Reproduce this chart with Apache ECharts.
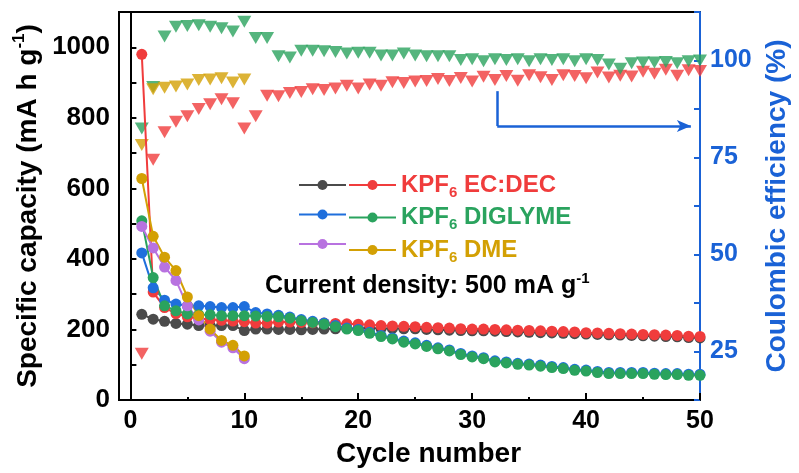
<!DOCTYPE html>
<html>
<head>
<meta charset="utf-8">
<script src="https://cdn.jsdelivr.net/npm/echarts@6/dist/echarts.min.js"></script>
<style>
  html, body { margin: 0; padding: 0; background: #fff; }
  #chart { width: 799px; height: 473px; }
</style>
</head>
<body>
<div id="chart"></div>
<script>
// cycle index
const cycles = [1, 2, 3, 4, 5, 6, 7, 8, 9, 10, 11, 12, 13, 14, 15, 16, 17, 18, 19, 20,
  21, 22, 23, 24, 25, 26, 27, 28, 29, 30, 31, 32, 33, 34, 35, 36, 37, 38, 39, 40,
  41, 42, 43, 44, 45, 46, 47, 48, 49, 50]

// specific capacity (mA h g-1)
const ecdecCharge = [243, 229, 223, 217, 215, 211, 211, 211, 211, 197, 201, 201, 200, 200, 199, 200, 201, 202, 203, 203,
  204, 203, 203, 202, 202, 200, 199, 198, 197, 196, 196, 195, 194, 193, 192, 191, 190, 189, 188, 187,
  186, 185, 184, 183, 182, 181, 180, 179, 177, 176]
const ecdecDischarge = [980, 306, 262, 245, 236, 231, 228, 226, 224, 222, 218, 218, 221, 221, 220, 219, 218, 217, 216, 215,
  213, 211, 210, 209, 208, 206, 205, 204, 202, 201, 201, 200, 199, 198, 197, 196, 195, 194, 193, 191,
  190, 189, 188, 187, 186, 185, 184, 183, 181, 180]
const diglymeCharge = [417, 318, 283, 272, 267, 267, 265, 262, 262, 265, 248, 244, 240, 235, 228, 223, 218, 211, 204, 200,
  192, 183, 176, 167, 162, 155, 148, 142, 132, 125, 120, 111, 108, 104, 102, 99, 95, 92, 87, 85,
  81, 78, 78, 78, 78, 76, 75, 75, 73, 73]
const diglymeDischarge = [508, 347, 267, 253, 244, 242, 242, 239, 239, 239, 238, 237, 236, 232, 225, 220, 215, 208, 201, 197,
  189, 180, 173, 164, 159, 152, 145, 139, 129, 122, 117, 108, 105, 101, 99, 96, 92, 89, 84, 82,
  78, 75, 75, 75, 75, 73, 72, 72, 70, 70]
const dmeCharge = [492, 431, 377, 339, 267, 227, 195, 164, 148, 117]
const dmeDischarge = [628, 464, 405, 367, 292, 239, 201, 169, 155, 125]

// coulombic efficiency (%)
const ecdecCE = [24.4, 74.4, 81.5, 84.2, 85.6, 87.5, 88.7, 90.0, 89.0, 82.5, 85.6, 90.9, 90.8, 91.6, 91.9, 92.6, 92.4, 92.8, 93.5, 92.8,
  93.8, 93.5, 94.4, 94.2, 94.6, 94.7, 95.2, 94.7, 95.5, 94.6, 95.8, 95.0, 96.0, 94.8, 96.2, 95.7, 95.0, 96.2, 96.0, 95.4,
  96.9, 95.6, 96.1, 95.9, 97.1, 96.6, 97.6, 96.1, 97.5, 97.3]
const diglymeCE = [82.5, 93.2, 106.2, 108.7, 108.9, 109.1, 108.7, 108.3, 107.5, 110.0, 105.8, 105.8, 101.1, 100.8, 102.5, 102.5, 102.4, 102.2, 101.8, 102.0,
  102.0, 101.3, 101.3, 101.8, 101.3, 101.1, 101.1, 101.1, 100.1, 100.3, 99.8, 100.3, 100.1, 100.3, 99.8, 100.3, 100.1, 100.3, 99.8, 100.3,
  100.1, 99.0, 97.9, 99.3, 99.5, 99.5, 99.6, 99.3, 99.8, 100.0]
const dmeCE = [78.2, 92.6, 93.0, 93.3, 93.8, 95.0, 95.1, 95.4, 94.3, 95.1]

// arrow pointing to the right axis (cycle, CE)
const arrowX = 32.2, arrowTop = 92.1, arrowBottom = 83.1, arrowEnd = 49.2

const FONT = '"Liberation Sans", Arial, sans-serif'
const BLUE_AXIS = '#1a62d6'
const C = {
  gray: '#4b4b4b', red: '#f03c3c', blue: '#1f6fdc',
  green: '#2aa35e', purple: '#b872e0', gold: '#d3a004'
}

const pts = vals => vals.map((v, i) => [cycles[i], v])

const capSeries = (name, vals, color) => ({
  name,
  type: 'line',
  data: pts(vals),
  symbol: 'circle',
  symbolSize: 11,
  lineStyle: { color, width: 2 },
  itemStyle: { color },
  emphasis: { disabled: true }
})

const ceSeries = (name, vals, color, extra) => Object.assign({
  name,
  type: 'scatter',
  yAxisIndex: 1,
  data: pts(vals),
  symbol: 'triangle',
  symbolRotate: 180,
  symbolSize: [14, 12],
  itemStyle: { color },
  emphasis: { disabled: true }
}, extra || {})

const legendRich = {
  n: { fontFamily: FONT, fontWeight: 'bold', fontSize: 24, lineHeight: 30 },
  r: { fontFamily: FONT, fontWeight: 'bold', fontSize: 24, lineHeight: 30, color: C.red },
  rs: { fontFamily: FONT, fontWeight: 'bold', fontSize: 15, lineHeight: 15, color: C.red, verticalAlign: 'bottom' },
  g: { fontFamily: FONT, fontWeight: 'bold', fontSize: 24, lineHeight: 30, color: C.green },
  gs: { fontFamily: FONT, fontWeight: 'bold', fontSize: 15, lineHeight: 15, color: C.green, verticalAlign: 'bottom' },
  y: { fontFamily: FONT, fontWeight: 'bold', fontSize: 24, lineHeight: 30, color: C.gold },
  ys: { fontFamily: FONT, fontWeight: 'bold', fontSize: 15, lineHeight: 15, color: C.gold, verticalAlign: 'bottom' }
}
const legendText = {
  'EC:DEC discharge': '{r|KPF}{rs|6}{r| EC:DEC}',
  'DIGLYME discharge': '{g|KPF}{gs|6}{g| DIGLYME}',
  'DME discharge': '{y|KPF}{ys|6}{y| DME}'
}

const titleRich = (color) => ({
  t: { fontFamily: FONT, fontWeight: 'bold', fontSize: 28, lineHeight: 34, color },
  sup: { fontFamily: FONT, fontWeight: 'bold', fontSize: 17, lineHeight: 17, color, verticalAlign: 'top' }
})

const chart = echarts.init(document.getElementById('chart'), null, { renderer: 'canvas' })

chart.setOption({
  animation: false,
  backgroundColor: '#fff',
  grid: { left: 119, right: 92, top: 12, bottom: 70, show: true, borderColor: '#000', borderWidth: 2 },
  legend: [
    {
      orient: 'vertical', left: 293, top: 168, itemWidth: 47, itemHeight: 12.5, itemGap: 5.5,
      data: ['EC:DEC charge', 'DIGLYME charge', 'DME charge'],
      formatter: () => '{n| }',
      textStyle: { rich: legendRich },
      selectedMode: false
    },
    {
      orient: 'vertical', left: 343, top: 168, itemWidth: 47, itemHeight: 12.5, itemGap: 5.5,
      data: ['EC:DEC discharge', 'DIGLYME discharge', 'DME discharge'],
      formatter: name => legendText[name],
      textStyle: { rich: legendRich },
      selectedMode: false
    }
  ],
  graphic: [{
    type: 'text', left: 265, top: 271,
    style: {
      text: '{t|Current density: 500 mA g}{sup|-1}',
      rich: {
        t: { fontFamily: FONT, fontWeight: 'bold', fontSize: 25, lineHeight: 30, fill: '#000' },
        sup: { fontFamily: FONT, fontWeight: 'bold', fontSize: 15, lineHeight: 15, fill: '#000', verticalAlign: 'top' }
      }
    }
  }],
  xAxis: {
    type: 'value', min: -1, max: 50, splitNumber: 5,
    name: 'Cycle number', nameLocation: 'middle', nameGap: 40, nameMoveOverlap: false,
    nameTextStyle: { fontFamily: FONT, fontWeight: 'bold', fontSize: 28, color: '#000', padding: [0, 0, 0, 38] },
    axisLine: { lineStyle: { color: '#000', width: 2 } },
    axisTick: { inside: true, length: 7, lineStyle: { color: '#000', width: 2 } },
    minorTick: { show: true, splitNumber: 2, length: 3, lineStyle: { color: '#000', width: 2 } },
    axisLabel: {
      margin: 9, fontFamily: FONT, fontWeight: 'bold', fontSize: 25, color: '#000',
      formatter: v => (v >= 0 && v % 10 === 0) ? String(v) : ''
    },
    splitLine: { show: false }
  },
  yAxis: [
    {
      type: 'value', min: 0, max: 1100, interval: 100,
      name: '{t|Specific capacity (mA h g}{sup|-1}{t|)}', nameLocation: 'middle', nameGap: 74, nameMoveOverlap: false,
      nameTextStyle: { rich: titleRich('#000') },
      axisLine: { show: true, lineStyle: { color: '#000', width: 2 } },
      axisTick: { inside: true, length: 6, lineStyle: { color: '#000', width: 2 } },
      axisLabel: {
        margin: 9, fontFamily: FONT, fontWeight: 'bold', fontSize: 26, color: '#000',
        formatter: v => v % 200 === 0 ? String(v) : ''
      },
      splitLine: { show: false }
    },
    {
      type: 'value', position: 'right', min: 12.5, max: 112.5, interval: 12.5,
      name: '{t|Coulombic efficiency (%)}', nameLocation: 'middle', nameGap: 60, nameMoveOverlap: false,
      nameTextStyle: { rich: titleRich(BLUE_AXIS) },
      axisLine: { show: true, lineStyle: { color: BLUE_AXIS, width: 2 } },
      axisTick: { inside: true, length: 6, lineStyle: { color: BLUE_AXIS, width: 2 } },
      axisLabel: {
        margin: 10, fontFamily: FONT, fontWeight: 'bold', fontSize: 25, color: BLUE_AXIS,
        formatter: v => v % 25 === 0 ? String(v) : ''
      },
      splitLine: { show: false }
    }
  ],
  series: [
    ceSeries('EC:DEC CE', ecdecCE, C.red, {
      markLine: {
        silent: true, symbol: ['none', 'none'], label: { show: false },
        lineStyle: { color: BLUE_AXIS, width: 2.5, type: 'solid' },
        emphasis: { disabled: true },
        data: [
          [{ coord: [arrowX, arrowTop] }, { coord: [arrowX, arrowBottom] }],
          [{ coord: [arrowX, arrowBottom] }, { coord: [arrowEnd, arrowBottom], symbol: 'arrow', symbolSize: [9, 14] }]
        ]
      }
    }),
    ceSeries('DIGLYME CE', diglymeCE, C.green),
    ceSeries('DME CE', dmeCE, C.gold),
    capSeries('EC:DEC charge', ecdecCharge, C.gray),
    capSeries('EC:DEC discharge', ecdecDischarge, C.red),
    capSeries('DIGLYME charge', diglymeCharge, C.blue),
    capSeries('DIGLYME discharge', diglymeDischarge, C.green),
    capSeries('DME charge', dmeCharge, C.purple),
    capSeries('DME discharge', dmeDischarge, C.gold)
  ]
})
</script>
</body>
</html>
